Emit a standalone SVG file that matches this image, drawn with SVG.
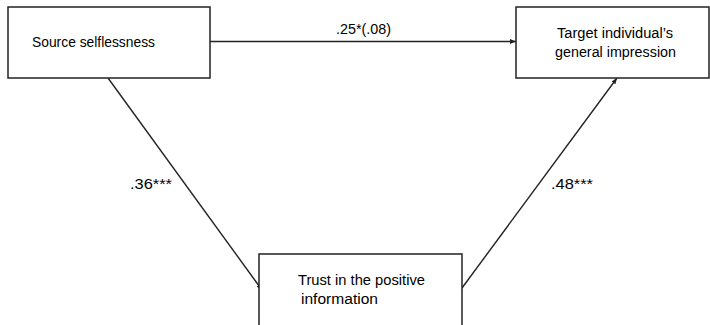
<svg xmlns="http://www.w3.org/2000/svg" width="710" height="325" viewBox="0 0 710 325">
<style>
.box{fill:#fff;stroke:#222;stroke-width:1.5}
.t{font-family:"Liberation Sans",Arial,sans-serif;font-size:15.5px;fill:#000}
.e{stroke:#222;stroke-width:1.4;fill:none;marker-end:url(#ah)}
</style>
<defs>
<marker id="ah" viewBox="0 0 10 10" refX="10" refY="5" markerWidth="6" markerHeight="6" orient="auto" markerUnits="userSpaceOnUse">
<path d="M0,1 L10,5 L0,9 z" fill="#222"/>
</marker>
</defs>
<rect width="710" height="325" fill="#fff"/>
<g id="connectors">
<line class="e" x1="210" y1="41.5" x2="516" y2="41.5"/>
<line class="e" x1="108" y1="78" x2="262" y2="290"/>
<line class="e" x1="462" y1="288" x2="617" y2="78"/>
<text class="t" x="336" y="34" textLength="55" lengthAdjust="spacingAndGlyphs">.25*(.08)</text>
<text class="t" x="130" y="189" textLength="42" lengthAdjust="spacingAndGlyphs">.36***</text>
<text class="t" x="551" y="189" textLength="42" lengthAdjust="spacingAndGlyphs">.48***</text>
</g>
<g id="source">
<rect class="box" x="8" y="7" width="202" height="71"/>
<text class="t" x="32" y="47" textLength="123" lengthAdjust="spacingAndGlyphs">Source selflessness</text>
</g>
<g id="target">
<rect class="box" x="516" y="7" width="193" height="71"/>
<text class="t" x="557" y="38" textLength="116" lengthAdjust="spacingAndGlyphs">Target individual’s</text>
<text class="t" x="555" y="57" textLength="121" lengthAdjust="spacingAndGlyphs">general impression</text>
</g>
<g id="trust">
<rect class="box" x="259" y="254" width="203" height="75"/>
<text class="t" x="298" y="285" textLength="127" lengthAdjust="spacingAndGlyphs">Trust in the positive</text>
<text class="t" x="301" y="304" textLength="77" lengthAdjust="spacingAndGlyphs">information</text>
</g>
</svg>
